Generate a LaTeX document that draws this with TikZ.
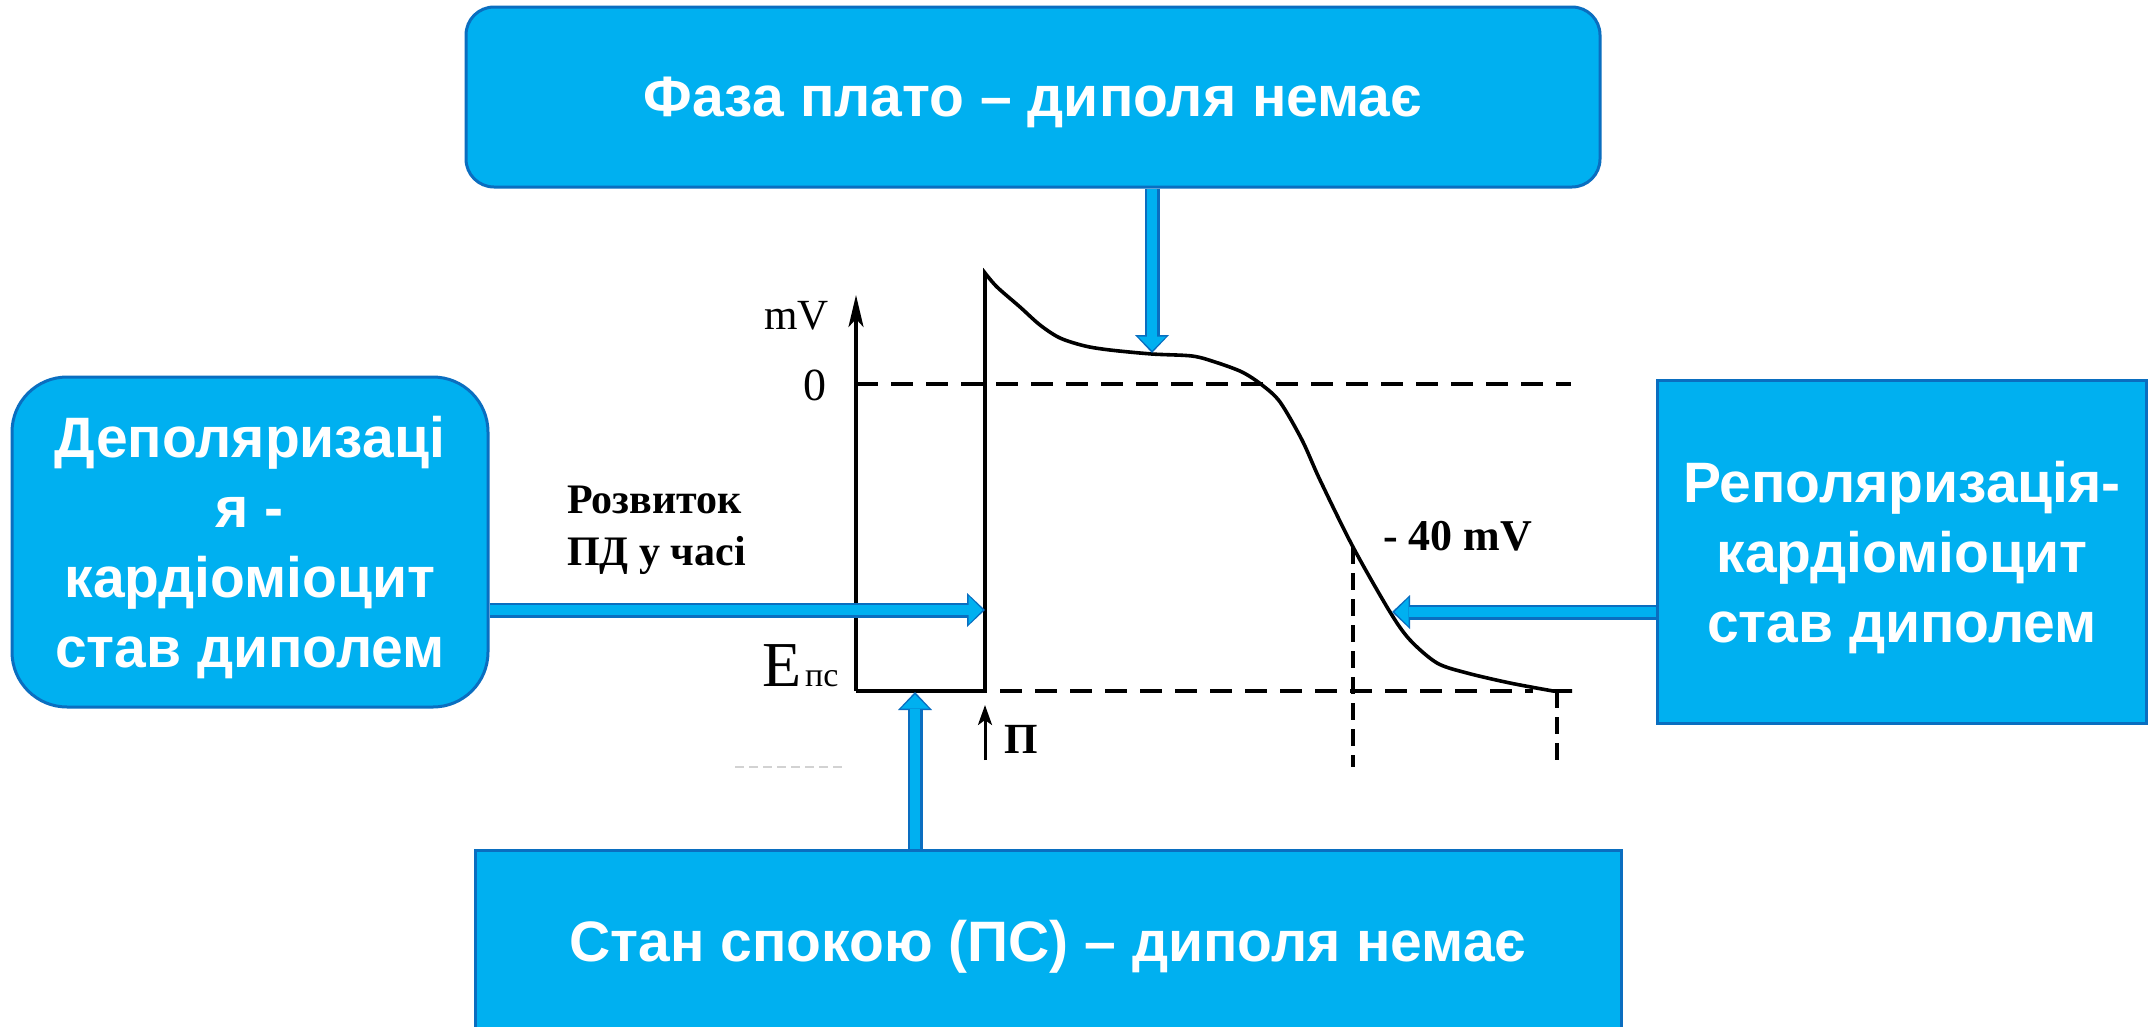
\documentclass[tikz,border=0pt]{standalone}
\usepackage{fontspec}
\setmainfont{Liberation Serif}
\newfontfamily\boxfont{Liberation Sans}
\usetikzlibrary{arrows.meta}
\definecolor{boxfill}{HTML}{00B0F0}
\definecolor{boxline}{HTML}{0A6EC0}
\begin{document}
\begin{tikzpicture}[x=1pt,y=-1pt,
  box/.style={draw=boxline, line width=3pt, fill=boxfill, text=white,
    font=\boxfont\bfseries\fontsize{57}{70}\selectfont, align=center, inner sep=0pt},
  barrow/.style={line width=10pt, draw=boxfill,
    -{Triangle[length=14pt,width=28pt,line width=0pt]}, shorten >=2.5pt,
    preaction={draw=boxline, line width=15pt,
      -{Triangle[length=18pt,width=34pt,line width=0pt]}, shorten >=0pt}},
  gline/.style={line width=3.6pt, black, line join=miter},
  hdash/.style={line width=3.6pt, black, dash pattern=on 22pt off 13pt},
  vdash/.style={line width=3.6pt, black, dash pattern=on 17pt off 9pt},
  lbl/.style={inner sep=0pt, black}]
\fill[white] (0,0) rectangle (2148,1026);
\useasboundingbox (0,0) rectangle (2148,1026);

% boxes
\node[box, text depth=0pt, rounded corners=28pt, minimum width=1134pt, minimum height=180pt] (plateau) at (1033,97) {Фаза плато – диполя немає};
\node[box, text depth=0pt, rounded corners=55pt, minimum width=476pt, minimum height=330pt] (depol) at (250,542) {Деполяризаці\\я -\\кардіоміоцит\\став диполем};
\node[box, text depth=0pt, minimum width=489pt, minimum height=343pt] (repol) at (1902,552) {Реполяризація-\\кардіоміоцит\\став диполем};
\node[box, minimum width=1146pt, minimum height=194pt] (rest) at (1048,947) {Стан спокою (ПС) – диполя немає};

% graph
\draw[gline, -{Stealth[length=32pt,width=15pt,inset=8pt]}] (856,691) -- (856,295);
\draw[hdash] (856,384) -- (1571,384);
\draw[hdash] (1000,691) -- (1533,691);
\draw[vdash] (1353,547) -- (1353,767);
\draw[vdash] (1557,691) -- (1557,762);
\draw[gline] (856,691) -- (985,691) -- (985,273)
  -- plot[smooth, tension=0.5] coordinates {(985,273) (997,287) (1020,307) (1040,325) (1060,338) (1085,346) (1110,350) (1152,354) (1192,356) (1215,362) (1242,372) (1262,385) (1280,402) (1302,440) (1320,480) (1353,547) (1390,612) (1410,640) (1437,663) (1467,673) (1510,683) (1553,691)}
  -- (1572,691);
\draw[line width=3pt, -{Stealth[length=20pt,width=14pt,inset=5pt]}] (985,760) -- (985,705);
\draw[gray!35, line width=1.5pt, dash pattern=on 9pt off 5pt] (735,767) -- (842,767);

% labels
\node[lbl, anchor=base west, font=\fontsize{43}{50}\selectfont] (mv) at (764,329) {mV};
\node[lbl, anchor=base west, font=\fontsize{46}{50}\selectfont] (zero) at (803,400) {0};
\node[lbl, anchor=base west, font=\fontsize{64}{70}\selectfont] (E) at (762,686) {E};
\node[lbl, anchor=base west, font=\fontsize{34}{40}\selectfont] (ps) at (805,686) {пс};
\node[lbl, anchor=base west, font=\bfseries\fontsize{42}{52}\selectfont, align=left] (razv) at (567,565) {Розвиток\\ПД у часі};
\node[lbl, anchor=base west, font=\bfseries\fontsize{44}{50}\selectfont] (m40) at (1383,550) {- 40 mV};
\node[lbl, anchor=base west, font=\bfseries\fontsize{43}{50}\selectfont] (P) at (1004,753) {П};

% arrow tips on the curve
\coordinate (tipP) at (1152,353);
\coordinate (tipL) at (985,610);
\coordinate (tipR) at (1392,612);
\coordinate (tipB) at (915,692);
\draw[barrow] (tipP |- plateau.south) -- (tipP);
\draw[barrow] (tipL -| depol.east) -- (tipL);
\draw[barrow] (tipR -| repol.west) -- (tipR);
\draw[barrow] (tipB |- rest.north) -- (tipB);
\end{tikzpicture}
\end{document}
